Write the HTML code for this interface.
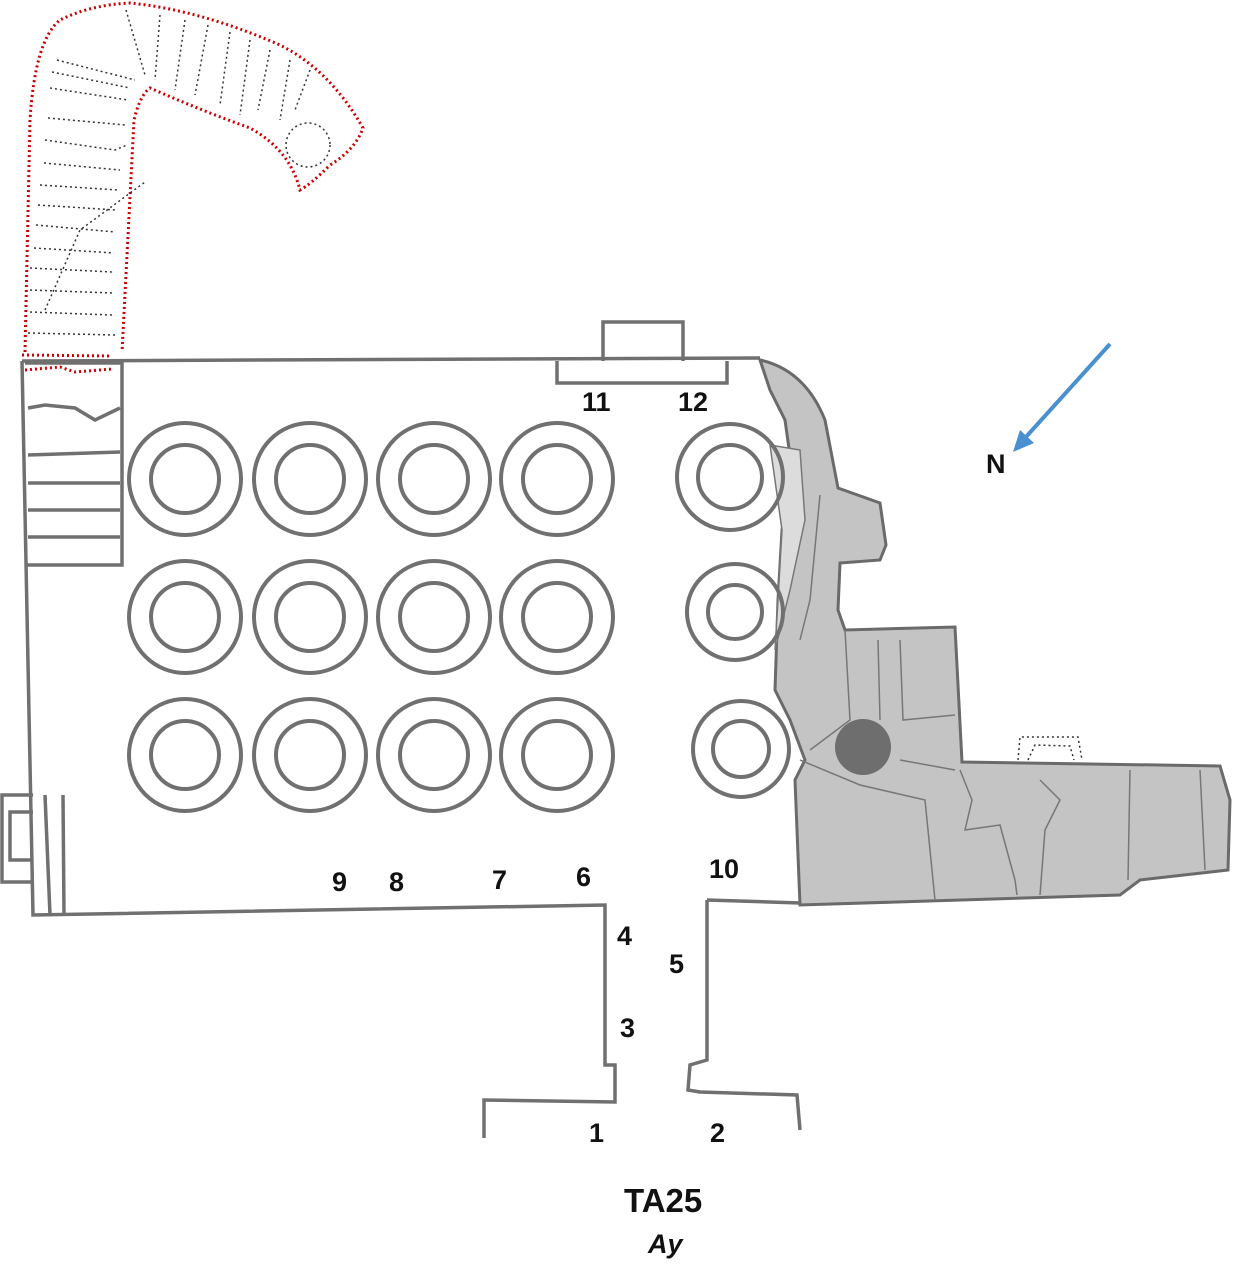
<!DOCTYPE html>
<html><head><style>body{margin:0;background:#fff}svg{display:block}text{font-family:"Liberation Sans",sans-serif;font-weight:bold;fill:#111}</style></head><body>
<svg width="1234" height="1280" viewBox="0 0 1234 1280">
<g fill="none" stroke="#c00" stroke-width="3" stroke-dasharray="2 3">
<path d="M25,352 L30,120 Q35,40 60,20 Q90,5 130,3 Q200,10 280,45 Q330,70 363,128 Q355,150 330,165 Q310,185 300,190 Q290,150 250,128 Q200,110 150,88 Q140,95 134,120 L122,352"/>
<path d="M22,355 L112,356 M25,370 L60,367 L75,372 L112,369"/>
</g>
<g fill="none" stroke="#333" stroke-width="1.5" stroke-dasharray="2 3">
<path d="M57,60 L135,80 M52,72 L130,88 M50,88 L128,100 M48,118 L125,125 M45,140 L115,150 L127,145 M44,163 L120,170 M40,185 L118,190 M38,205 L116,210 M36,225 L115,232 M34,248 L114,253 M30,268 L112,272 M30,290 L112,293 M30,312 L112,315 M28,333 L115,335"/>
<path d="M126,10 L145,75 M160,15 L155,80 M185,20 L175,90 M208,25 L195,95 M230,32 L220,105 M250,40 L240,115 M270,50 L258,110 M290,60 L280,120 M310,70 L295,110"/>
<path d="M45,310 L80,230 L145,182"/>
<circle cx="308" cy="145" r="22"/>
<path d="M1018,760 L1020,737 L1078,737 L1082,760 M1028,760 L1035,745 L1070,746 L1074,760"/>
</g>
<g fill="#c4c4c4" stroke="#6a6a6a" stroke-width="3">
<path d="M760,360 Q805,370 825,420 L838,488 L880,503 L886,545 L880,560 L840,563 L838,610 L845,630 L955,627 L962,762 L1220,766 L1230,800 L1228,870 L1140,880 L1120,895 L800,905 L795,780 L805,760 L790,720 L775,690 L778,600 L782,530 L792,470 L785,420 L770,390 Z"/>
</g>
<path d="M770,445 L800,450 L805,520 L790,590 L775,650 L778,600 L782,530 Z" fill="#dcdcdc" stroke="#777" stroke-width="1.5"/>
<g fill="none" stroke="#777" stroke-width="1.5">
<path d="M820,495 L810,600 L800,640 M845,630 L850,720 L810,750 M878,640 L880,720 M900,640 L903,720 L955,715 M800,760 L860,785 L925,800 L935,900 M960,770 L972,800 L965,830 L1000,825 L1015,880 L1017,895 M1040,780 L1060,800 L1045,830 L1040,895 M1130,770 L1128,880 M1200,770 L1205,870 M900,760 L955,770"/>
</g>
<circle cx="863" cy="747" r="28" fill="#6e6e6e"/>
<g fill="none" stroke="#707070" stroke-width="3.5">
<path d="M22,361 L760,358 M22,361 L33,915 L605,905 L605,1065 L615,1065 L615,1102 L484,1100 L484,1138"/>
<path d="M707,900 L800,903 M707,900 L707,1060 L690,1065 L688,1090 L700,1092 L797,1095 L800,1130"/>
<path d="M603,361 L603,322 L683,322 L683,361 M557,361 L557,383 L727,383 L727,361"/>
<path d="M25,363 L122,363 L122,565 L25,565 M28,408 L45,405 L75,408 L95,420 L120,408 M28,455 L120,452 M28,483 L120,483 M28,510 L120,510 M28,537 L120,537"/>
<path d="M33,795 L2,795 L2,882 L33,882 M45,795 L50,915 M63,795 L64,915 M33,812 L10,812 L10,860 L33,860"/>
</g>
<g fill="none" stroke="#707070" stroke-width="4">
<circle cx="185" cy="479" r="56"/><circle cx="185" cy="479" r="34"/>
<circle cx="310" cy="479" r="56"/><circle cx="310" cy="479" r="34"/>
<circle cx="434" cy="479" r="56"/><circle cx="434" cy="479" r="34"/>
<circle cx="557" cy="479" r="56"/><circle cx="557" cy="479" r="34"/>
<circle cx="185" cy="617" r="56"/><circle cx="185" cy="617" r="34"/>
<circle cx="310" cy="617" r="56"/><circle cx="310" cy="617" r="34"/>
<circle cx="434" cy="617" r="56"/><circle cx="434" cy="617" r="34"/>
<circle cx="557" cy="617" r="56"/><circle cx="557" cy="617" r="34"/>
<circle cx="185" cy="755" r="56"/><circle cx="185" cy="755" r="34"/>
<circle cx="310" cy="755" r="56"/><circle cx="310" cy="755" r="34"/>
<circle cx="434" cy="755" r="56"/><circle cx="434" cy="755" r="34"/>
<circle cx="557" cy="755" r="56"/><circle cx="557" cy="755" r="34"/>
<circle cx="730" cy="477" r="53"/><circle cx="730" cy="477" r="32"/>
<circle cx="735" cy="612" r="48"/><circle cx="735" cy="612" r="27"/>
<circle cx="741" cy="749" r="48"/><circle cx="741" cy="749" r="28"/>
</g>
<line x1="1110" y1="344" x2="1025" y2="438" stroke="#4a90d0" stroke-width="4"/>
<polygon points="1013,452 1020,430 1034,443" fill="#4a90d0"/>
<g font-size="27">
<text x="986" y="473">N</text>
<text x="582" y="411">11</text><text x="678" y="411">12</text>
<text x="332" y="891">9</text><text x="389" y="891">8</text><text x="492" y="889">7</text><text x="576" y="886">6</text><text x="709" y="878">10</text>
<text x="617" y="945">4</text><text x="669" y="973">5</text><text x="620" y="1037">3</text>
<text x="589" y="1142">1</text><text x="710" y="1142">2</text>
<text x="624" y="1212" font-size="33">TA25</text>
<text x="648" y="1253" font-style="italic">Ay</text>
</g>
</svg>
</body></html>
